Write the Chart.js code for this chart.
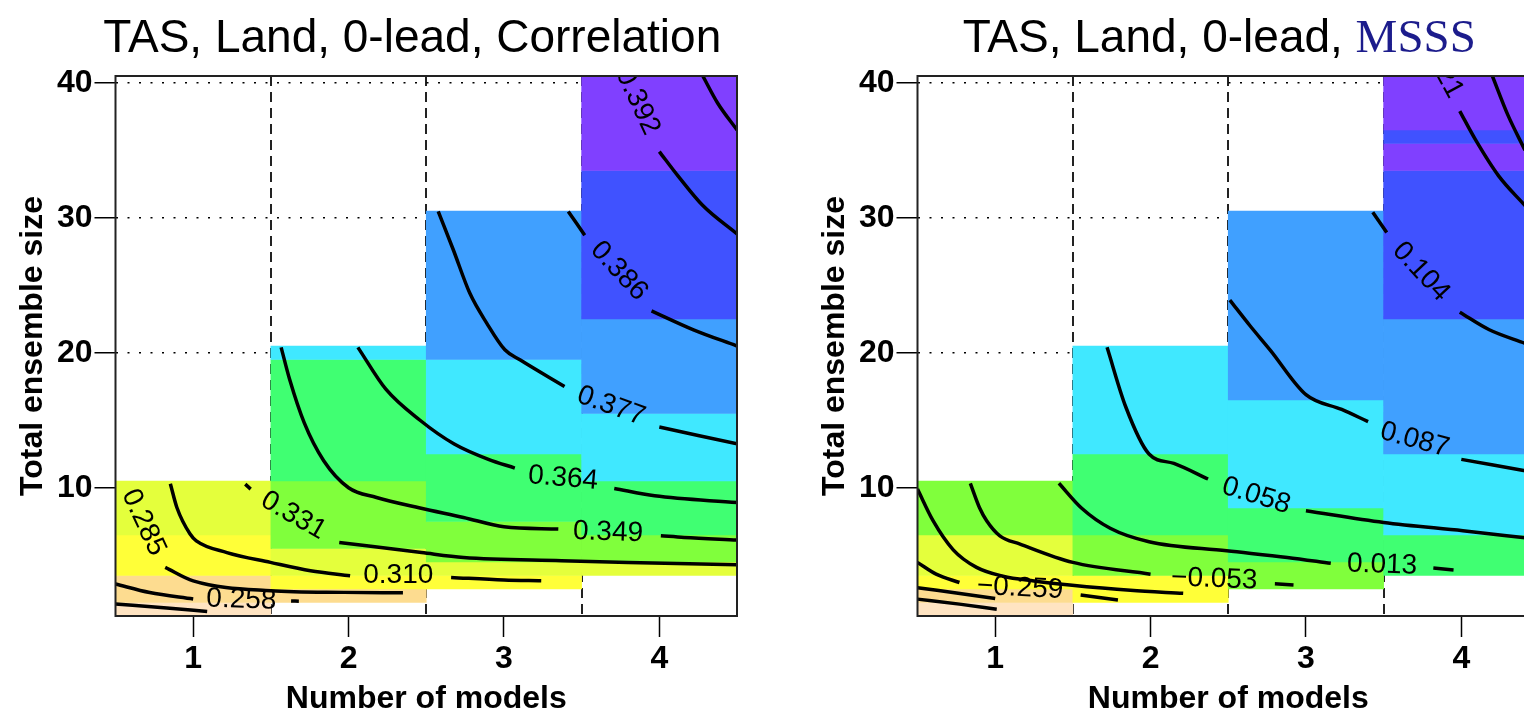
<!DOCTYPE html>
<html>
<head>
<meta charset="utf-8">
<script src="https://cdn.jsdelivr.net/npm/chart.js@4.4.1/dist/chart.umd.min.js"></script>
<style>
  html, body { margin: 0; padding: 0; background: #fff; overflow: hidden; width: 1524px; height: 715px; }
  .panel { position: absolute; top: 0; width: 760px; height: 715px; }
  #left { left: 0; }
  #right { left: 802px; }
</style>
</head>
<body>
<div class="panel" id="left"><canvas id="chartCorr" width="760" height="715"></canvas></div>
<div class="panel" id="right"><canvas id="chartMsss" width="760" height="715"></canvas></div>
<script>
/* --- axes --- */
const modelCounts = [1, 2, 3, 4];        // x categories (number of models)
const firstRow = [1, 2, 3, 4];           // smallest ensemble size in each column
const xTicks = [1, 2, 3, 4];
const yTicks = [10, 20, 30, 40];
const columnEdges = [1.5, 2.5, 3.5];

/* --- colour of each contour band, lowest to highest --- */
const levelColors = ['#FFE4C2', '#FDDC90', '#FFFF38', '#E4FF3C', '#80FF3C',
                     '#40FF72', '#40E8FF', '#40A0FF', '#4052FF', '#8040FF'];

/* --- band index of every cell, per column, from the smallest ensemble upward --- */
const corrCells = [
  [0, 1, 1, 2, 2, 2, 3, 3, 3, 3],
  [1, 2, 3, 3, 4, 4, 4, 4, 4, 5, 5, 5, 5, 5, 5, 5, 5, 5, 6],
  [2, 3, 4, 4, 4, 5, 5, 5, 5, 5, 6, 6, 6, 6, 6, 6, 6, 7, 7, 7, 7, 7, 7, 7, 7, 7, 7, 7],
  [3, 4, 4, 5, 5, 5, 5, 6, 6, 6, 6, 6, 7, 7, 7, 7, 7, 7, 7, 8, 8, 8, 8, 8, 8, 8, 8, 8, 8, 8, 9, 9, 9, 9, 9, 9, 9]
];
const msssCells = [
  [0, 1, 2, 3, 3, 3, 4, 4, 4, 4],
  [2, 2, 4, 4, 4, 5, 5, 5, 5, 5, 5, 6, 6, 6, 6, 6, 6, 6, 6],
  [4, 4, 5, 5, 5, 5, 6, 6, 6, 6, 6, 6, 6, 6, 7, 7, 7, 7, 7, 7, 7, 7, 7, 7, 7, 7, 7, 7],
  [5, 5, 5, 6, 6, 6, 6, 6, 6, 7, 7, 7, 7, 7, 7, 7, 7, 7, 7, 8, 8, 8, 8, 8, 8, 8, 8, 8, 8, 8, 9, 9, 8, 9, 9, 9, 9]
];

/* --- contour line pieces [models, ensemble size] --- */
const corrLines = [
  [[4.28, 40.5], [4.375, 38.5], [4.5, 36.5]],
  [[4.0, 34.9], [4.12, 33.1], [4.28, 30.9], [4.5, 28.8]],
  [[3.414, 30.47], [3.52, 28.7]],
  [[3.95, 23.1], [4.22, 21.7], [4.5, 20.5]],
  [[2.577, 30.47], [2.674, 27.63], [2.78, 24.42], [2.889, 22.2], [3.006, 20.22], [3.103, 19.48], [3.39, 17.5]],
  [[4.0, 14.5], [4.5, 13.25]],
  [[2.06, 20.4], [2.24, 17.3], [2.46, 15.0], [2.68, 13.24], [2.9, 12.1], [3.07, 11.46]],
  [[3.71, 9.95], [3.97, 9.4], [4.5, 8.9]],
  [[1.566, 20.4], [1.62, 18.05], [1.715, 14.8], [1.84, 12.0], [2.0, 10.0], [2.18, 9.28], [2.46, 8.5], [2.74, 7.8], [3.0, 7.11], [3.35, 6.94]],
  [[4.01, 6.44], [4.16, 6.32], [4.5, 6.13]],
  [[1.335, 10.27], [1.37, 9.9]],
  [[1.94, 5.95], [2.47, 5.2], [2.74, 4.84], [3.37, 4.6], [3.8, 4.47], [4.5, 4.3]],
  [[0.853, 10.3], [0.895, 8.54], [0.98, 6.57], [1.02, 6.07], [1.217, 5.2], [1.497, 4.47], [1.755, 3.85], [2.01, 3.48]],
  [[2.66, 3.36], [3.0, 3.16], [3.24, 3.11]],
  [[0.82, 4.1], [1.0, 3.1], [1.5, 2.37], [1.97, 2.25], [2.35, 2.22]],
  [[0.5, 2.87], [0.72, 2.24], [1.0, 1.76]],
  [[1.63, 1.62], [1.68, 1.6]],
  [[0.5, 1.39], [0.83, 1.09], [1.09, 0.84]]
];
const msssLines = [
  [[4.2, 40.5], [4.3, 37.6], [4.41, 35.0]],
  [[3.99, 37.9], [4.09, 35.8], [4.24, 33.1], [4.41, 30.9]],
  [[3.43, 30.4], [3.52, 28.9]],
  [[3.99, 23.0], [4.18, 21.7], [4.41, 20.7]],
  [[2.51, 23.9], [2.64, 22.0], [2.77, 20.2], [3.0, 16.9], [3.23, 15.8], [3.4, 14.9]],
  [[4.0, 12.1], [4.41, 11.26]],
  [[1.72, 20.4], [1.84, 16.0], [1.99, 12.5], [2.15, 11.8], [2.37, 10.65]],
  [[3.0, 8.3], [3.5, 7.43], [4.01, 6.81], [4.41, 6.3]],
  [[1.41, 10.33], [1.555, 8.5], [1.74, 7.0], [1.99, 6.0], [2.49, 5.33], [2.88, 4.84], [3.16, 4.4]],
  [[3.82, 4.05], [3.95, 3.9]],
  [[0.84, 10.33], [0.9, 8.5], [0.945, 7.56], [1.03, 6.44], [1.16, 5.83], [1.5, 4.47], [2.0, 3.6]],
  [[2.8, 2.88], [2.92, 2.8]],
  [[0.5, 9.9], [0.6, 7.56], [0.73, 5.4], [0.88, 4.1], [1.05, 3.45], [1.25, 3.1], [1.48, 2.8], [1.87, 2.4], [2.21, 2.18]],
  [[0.5, 4.47], [0.62, 3.6], [0.77, 2.98]],
  [[0.5, 2.6], [0.75, 2.2], [1.0, 1.8]],
  [[1.55, 2.05], [1.79, 1.68]],
  [[0.5, 1.75], [0.77, 1.38], [1.01, 1.0]]
];

/* --- contour labels [text, models, ensemble size, angle in degrees] --- */
const corrLabels = [
  ['0.392', 3.86, 38.6, 65],
  ['0.386', 3.74, 26.05, 47],
  ['0.377', 3.69, 16.04, 20],
  ['0.364', 3.38, 10.7, 5],
  ['0.349', 3.67, 6.69, 2],
  ['0.331', 1.645, 7.93, 30],
  ['0.310', 2.32, 3.48, 0],
  ['0.285', 0.68, 7.43, 65],
  ['0.258', 1.31, 1.69, 2]
];
const msssLabels = [
  ['0.121', 3.86, 41.3, 62],
  ['0.104', 3.74, 26.0, 47],
  ['0.087', 3.70, 13.54, 15],
  ['0.058', 2.68, 9.4, 17],
  ['0.013', 3.49, 4.28, 2],
  ['\u22120.053', 2.41, 3.22, 2],
  ['\u22120.259', 1.16, 2.56, 3]
];

const FONT = 'Liberation Sans';

/* --- plugins --- */
const panelTitle = {
  id: 'panelTitle',
  afterDraw(chart, args, opts) {
    const ctx = chart.ctx;
    ctx.save();
    let total = 0;
    const widths = opts.parts.map(p => { ctx.font = p.font; const w = ctx.measureText(p.text).width; total += w; return w; });
    let x = (chart.chartArea.left + chart.chartArea.right) / 2 + opts.shift - total / 2;
    ctx.textBaseline = 'alphabetic';
    ctx.textAlign = 'left';
    opts.parts.forEach((p, i) => {
      ctx.font = p.font;
      ctx.fillStyle = p.color;
      ctx.fillText(p.text, x, opts.baseline);
      x += widths[i];
    });
    ctx.restore();
  }
};

const contourLabels = {
  id: 'contourLabels',
  afterDatasetsDraw(chart, args, opts) {
    const { ctx, chartArea: a, scales: { x, y } } = chart;
    ctx.save();
    ctx.beginPath();
    ctx.rect(a.left, a.top, a.right - a.left, a.bottom - a.top);
    ctx.clip();
    ctx.font = opts.font;
    ctx.fillStyle = '#000';
    ctx.textAlign = 'center';
    ctx.textBaseline = 'middle';
    opts.labels.forEach(([text, vx, vy, deg]) => {
      ctx.save();
      ctx.translate(x.getPixelForValue(vx), y.getPixelForValue(vy));
      ctx.rotate(deg * Math.PI / 180);
      ctx.fillText(text, 0, 0);
      ctx.restore();
    });
    ctx.restore();
  }
};

const frame = {
  id: 'frame',
  afterDraw(chart) {
    const { ctx, chartArea: a } = chart;
    ctx.save();
    ctx.strokeStyle = '#222';
    ctx.lineWidth = 2;
    ctx.strokeRect(a.left, a.top, a.right - a.left, a.bottom - a.top);
    ctx.restore();
  }
};

/* --- builders --- */
function cellDataset(cells) {
  const data = [], colors = [];
  cells.forEach((col, c) => {
    let start = 0;
    for (let i = 1; i <= col.length; i++) {
      if (i === col.length || col[i] !== col[start]) {
        data.push({ x: modelCounts[c], y: [firstRow[c] + start - 0.5, firstRow[c] + i - 0.5] });
        colors.push(levelColors[col[start]]);
        start = i;
      }
    }
  });
  return { type: 'bar', data, backgroundColor: colors, borderWidth: 0,
           categoryPercentage: 1, barPercentage: 1, order: 2 };
}

function lineDatasets(lines) {
  return lines.map(seg => ({
    type: 'line',
    data: seg.map(([x, y]) => ({ x, y })),
    borderColor: '#000', borderWidth: 3.5, pointRadius: 0,
    cubicInterpolationMode: 'monotone', fill: false, order: 1
  }));
}

function buildScales() {
  const tickFont = { family: FONT, size: 32, weight: 'bold' };
  return {
    x: {
      type: 'linear', min: 0.5, max: 4.5, offset: false,
      afterBuildTicks: s => { s.ticks = xTicks.map(v => ({ value: v })); },
      afterFit: s => { s.height = 99; },
      grid: { offset: false, drawOnChartArea: false, drawTicks: true, tickLength: 21,
              tickWidth: 1.5, tickColor: '#000', color: '#000' },
      border: { display: false },
      ticks: { color: '#000', padding: 3, font: tickFont, maxRotation: 0, autoSkip: false },
      title: { display: true, text: 'Number of models', color: '#000', padding: 0,
               font: { family: FONT, size: 32, weight: 'bold', lineHeight: 1 } }
    },
    x2: {
      type: 'linear', position: 'top', min: 0.5, max: 4.5, offset: false, z: 1,
      afterBuildTicks: s => { s.ticks = columnEdges.map(v => ({ value: v })); },
      afterFit: s => { s.height = 0; },
      ticks: { display: false },
      grid: { offset: false, drawTicks: false, color: '#222', lineWidth: 2 },
      border: { display: false, dash: [10, 6] }
    },
    y: {
      type: 'linear', min: 0.5, max: 40.5, z: 1,
      afterBuildTicks: s => { s.ticks = yTicks.map(v => ({ value: v })); },
      afterFit: s => { s.width = 115.5; },
      grid: { color: '#000', lineWidth: 1.5, tickLength: 21, tickWidth: 1.5, tickBorderDash: [] },
      border: { display: false, dash: [2, 9.5] },
      ticks: { color: '#000', padding: 2, font: tickFont },
      title: { display: true, text: 'Total ensemble size', color: '#000', padding: { top: 17, bottom: 0 },
               font: { family: FONT, size: 32, weight: 'bold', lineHeight: 1 } }
    }
  };
}

function makeChart(id, cells, lines, labels, titleParts, shift) {
  return new Chart(document.getElementById(id), {
    type: 'bar',
    data: { datasets: [cellDataset(cells), ...lineDatasets(lines)] },
    options: {
      responsive: false,
      animation: false,
      events: [],
      layout: { padding: { top: 76, right: 23, bottom: 0, left: 0 } },
      scales: buildScales(),
      plugins: {
        legend: { display: false },
        tooltip: { enabled: false },
        panelTitle: { parts: titleParts, baseline: 52, shift },
        contourLabels: { labels, font: '28px "' + FONT + '"' }
      }
    },
    plugins: [contourLabels, panelTitle, frame]
  });
}

makeChart('chartCorr', corrCells, corrLines, corrLabels,
  [{ text: 'TAS, Land, 0-lead, Correlation', font: '46px "' + FONT + '"', color: '#000' }], -14);

makeChart('chartMsss', msssCells, msssLines, msssLabels,
  [{ text: 'TAS, Land, 0-lead, ', font: '46px "' + FONT + '"', color: '#000' },
   { text: 'MSSS', font: '47px "Liberation Serif"', color: '#1C1C8C' }], -9);
</script>
</body>
</html>
